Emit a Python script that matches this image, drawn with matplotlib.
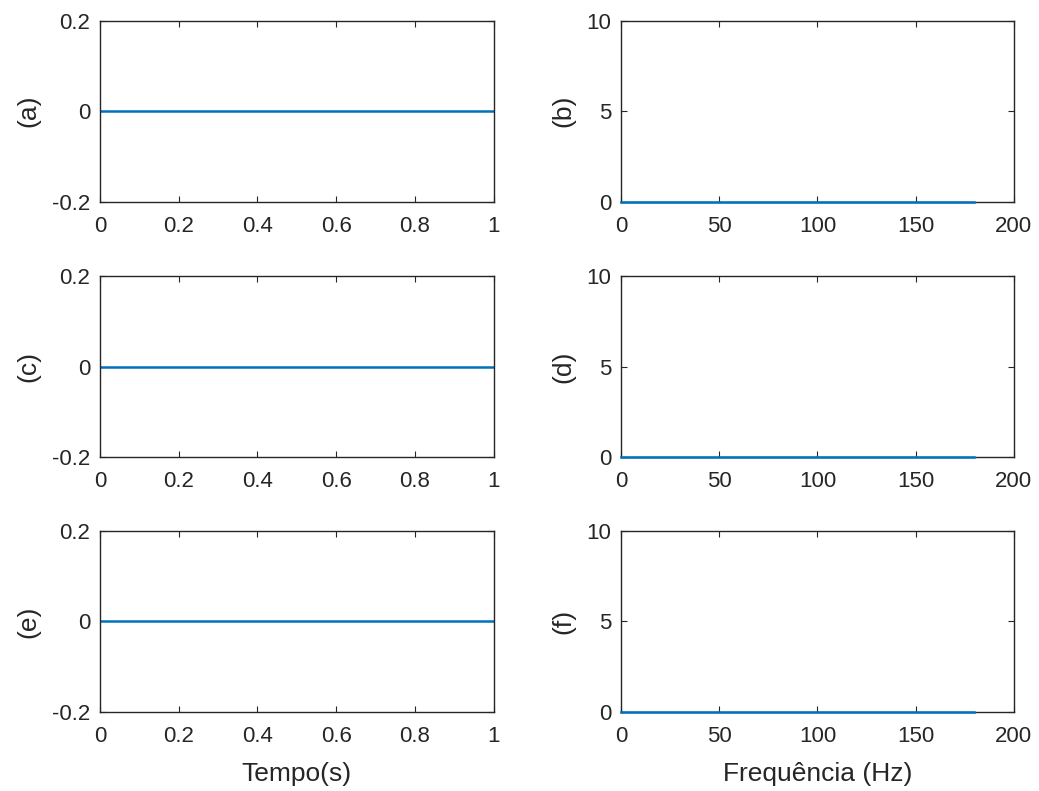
import matplotlib.pyplot as plt

plt.rcParams['font.family'] = ['Liberation Sans', 'DejaVu Sans']

# time-domain signals (a), (c), (e)
t = [0.0, 1.0]
sig_a = [0.0, 0.0]
sig_c = [0.0, 0.0]
sig_e = [0.0, 0.0]

# spectra (b), (d), (f)
freq = [0.0, 180.0]
spec_b = [0.0, 0.0]
spec_d = [0.0, 0.0]
spec_f = [0.0, 0.0]

time_labels = ['(a)', '(c)', '(e)']
freq_labels = ['(b)', '(d)', '(f)']

time_xticks = [0, 0.2, 0.4, 0.6, 0.8, 1]
time_xticklabels = ['0', '0.2', '0.4', '0.6', '0.8', '1']
time_yticks = [-0.2, 0, 0.2]
time_yticklabels = ['-0.2', '0', '0.2']
freq_xticks = [0, 50, 100, 150, 200]
freq_yticks = [0, 5, 10]

blue = '#0072BD'
dark = '#262626'
tick_fs = 16
label_fs = 19

fig = plt.figure(figsize=(10.39, 7.91), dpi=100)

bottoms = [0.745, 0.4222, 0.0999]
h = 0.2288


def style(ax):
    for s in ax.spines.values():
        s.set_color(dark)
        s.set_linewidth(1.0)
    ax.tick_params(direction='in', top=True, right=True, length=4,
                   width=0.8, colors=dark, labelsize=tick_fs)
    ax.tick_params(axis='x', pad=10)
    ax.tick_params(axis='y', pad=7)


for i, (sa, sb) in enumerate(zip([sig_a, sig_c, sig_e], [spec_b, spec_d, spec_f])):
    ax = fig.add_axes([0.0962, bottoms[i], 0.379, h])
    ax.plot(t, sa, color=blue, lw=1.8)
    ax.set_xlim(0, 1)
    ax.set_ylim(-0.2, 0.2)
    ax.set_xticks(time_xticks)
    ax.set_xticklabels(time_xticklabels)
    ax.set_yticks(time_yticks)
    ax.set_yticklabels(time_yticklabels)
    ax.set_ylabel(time_labels[i], fontsize=label_fs, color=dark, labelpad=8)
    style(ax)
    if i == 2:
        ax.set_xlabel('Tempo(s)', fontsize=label_fs, color=dark, labelpad=11)

    ax2 = fig.add_axes([0.5977, bottoms[i], 0.378, h])
    ax2.plot(freq, sb, color=blue, lw=1.8, clip_on=False, zorder=3)
    ax2.set_xlim(0, 200)
    ax2.set_ylim(0, 10)
    ax2.set_xticks(freq_xticks)
    ax2.set_yticks(freq_yticks)
    ax2.set_ylabel(freq_labels[i], fontsize=label_fs, color=dark, labelpad=8)
    style(ax2)
    if i == 2:
        ax2.set_xlabel('Frequência (Hz)', fontsize=label_fs, color=dark, labelpad=11)

fig.savefig('out.png', dpi=100)
